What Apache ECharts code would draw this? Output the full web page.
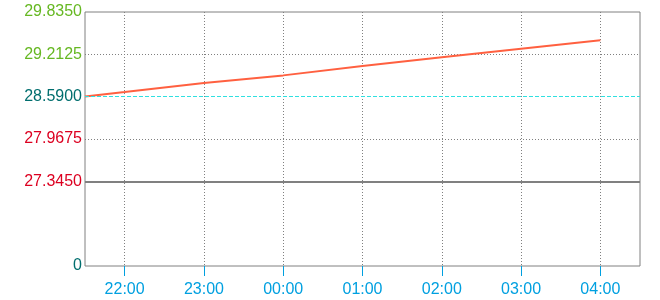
<!DOCTYPE html>
<html>
<head>
<meta charset="utf-8">
<script src="https://cdn.jsdelivr.net/npm/echarts@6/dist/echarts.min.js"></script>
<style>html,body{margin:0;padding:0;background:#fff}#c{width:660px;height:300px}</style>
</head>
<body>
<div id="c"></div>
<script>
// Data (hours past midnight of first day; 24 = 00:00 next day)
var hours = [21.5, 22, 23, 24, 25, 26, 27, 28];
var values = [28.594, 28.659, 28.791, 28.903, 29.041, 29.168, 29.296, 29.418];
var xTicks = [22, 23, 24, 25, 26, 27, 28];
var yLabels = [26.1, 27.345, 27.9675, 28.59, 29.2125, 29.835];
var yLabelText = ['0', '27.3450', '27.9675', '28.5900', '29.2125', '29.8350'];
var yLabelColors = ['#006e6e', '#dc0020', '#dc0020', '#006e6e', '#66b822', '#66b822'];
var yDotted = [27.9675, 29.2125];
var yBase = 27.345;
var yRef = 28.59;

var chart = echarts.init(document.getElementById('c'), null, {renderer: 'canvas'});
var font = '"Liberation Sans", Arial, sans-serif';
chart.setOption({
  animation: false,
  grid: {left: 85, right: 20, top: 12, bottom: 34, show: true, borderColor: '#808080', borderWidth: 1, backgroundColor: 'transparent'},
  xAxis: {
    type: 'value', min: 21.5, max: 28.5,
    axisLine: {show: false},
    axisTick: {show: true, length: 10, customValues: xTicks, lineStyle: {color: '#00a0e0', width: 1}},
    axisLabel: {
      customValues: xTicks, margin: 16, fontSize: 16, fontFamily: font, color: '#00a0e0',
      formatter: function (v) { var h = Math.round(v) % 24; return (h < 10 ? '0' : '') + h + ':00'; }
    },
    splitLine: {show: true, lineStyle: {color: '#808080', type: [1, 2], width: 1}}
  },
  yAxis: {
    type: 'value', min: 26.1, max: 29.835,
    axisLine: {show: false},
    axisTick: {show: false, customValues: yDotted},
    axisLabel: {
      customValues: yLabels, margin: 3, fontSize: 16, fontFamily: font,
      formatter: function (v) {
        for (var i = 0; i < yLabels.length; i++) if (Math.abs(yLabels[i] - v) < 1e-6) return yLabelText[i];
        return '';
      },
      color: function (v) {
        for (var i = 0; i < yLabels.length; i++) if (Math.abs(yLabels[i] - v) < 1e-6) return yLabelColors[i];
        return '#000';
      }
    },
    splitLine: {show: true, lineStyle: {color: '#808080', type: [1, 2], width: 1}}
  },
  series: [
    {
      type: 'line', z: 1, data: [], silent: true,
      markLine: {
        silent: true, symbol: 'none', label: {show: false}, animation: false,
        data: [
          {yAxis: yBase, lineStyle: {color: '#808080', width: 2, type: 'solid'}},
          {yAxis: yRef, lineStyle: {color: '#30e0e0', width: 1, type: [4, 2]}}
        ]
      }
    },
    {
      type: 'line', z: 3,
      data: hours.map(function (h, i) { return [h, values[i]]; }),
      showSymbol: false, symbol: 'none',
      lineStyle: {color: '#ff6040', width: 2}
    }
  ]
});
</script>
</body>
</html>
